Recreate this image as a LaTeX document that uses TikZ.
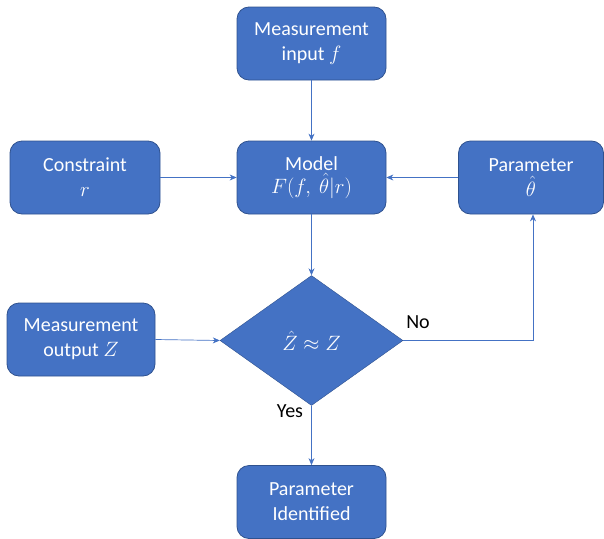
\documentclass[tikz,border=0pt]{standalone}
\usepackage{fontspec}
\setmainfont{Carlito}
\usetikzlibrary{shapes.geometric,arrows.meta}
\definecolor{boxfill}{HTML}{4472C4}
\definecolor{boxedge}{HTML}{2F528F}
\begin{document}
\begin{tikzpicture}[x=1pt,y=-1pt,
  blk/.style={draw=boxedge,fill=boxfill,rounded corners=12pt,minimum width=149pt,minimum height=73pt,text=white,align=center,font=\fontsize{20}{25}\selectfont,line width=0.8pt,inner sep=2pt},
  dec/.style={draw=boxedge,fill=boxfill,diamond,minimum width=183pt,minimum height=130pt,text=white,font=\fontsize{21}{25}\selectfont,inner sep=0pt,aspect=1.4},
  conn/.style={draw=boxfill,line width=0.7pt,-{Stealth[length=7pt,width=6pt]}},
  lbl/.style={font=\fontsize{20}{24}\selectfont,text=black}]
\useasboundingbox (0,0) rectangle (604,538);
\node[blk] (inp) at (311.5,43.5) {Measurement\\input $f$};
\node[blk] (mod) at (311.5,177.5) {Model\\[-2pt]$F\Bigl(f,\ \hat{\theta}\Big|r\Bigr)$};
\node[blk,minimum width=150pt] (con) at (85,177.5) {Constraint\\$r$};
\node[blk,minimum width=145pt] (par) at (531,177.5) {Parameter\\$\hat{\theta}$};
\node[blk,minimum width=148pt] (out) at (81,339.5) {Measurement\\output $Z$};
\node[dec] (dia) at (311.5,340.5) {$\hat{Z}\approx Z$};
\node[blk] (res) at (311.5,502) {Parameter\\Identified};
\coordinate (corner) at (533,340.5);
\draw[conn] (inp) -- (mod);
\draw[conn] (con) -- (mod);
\draw[conn] (par) -- (mod);
\draw[conn] (mod) -- (dia);
\draw[conn] (out.east) -- (dia.west);
\draw[conn] (dia.east) -- (corner) -- (par.south -| corner);
\draw[conn] (dia) -- (res);
\node[lbl] (no) at (418,322) {No};
\node[lbl] (yes) at (290,411) {Yes};
\end{tikzpicture}
\end{document}
